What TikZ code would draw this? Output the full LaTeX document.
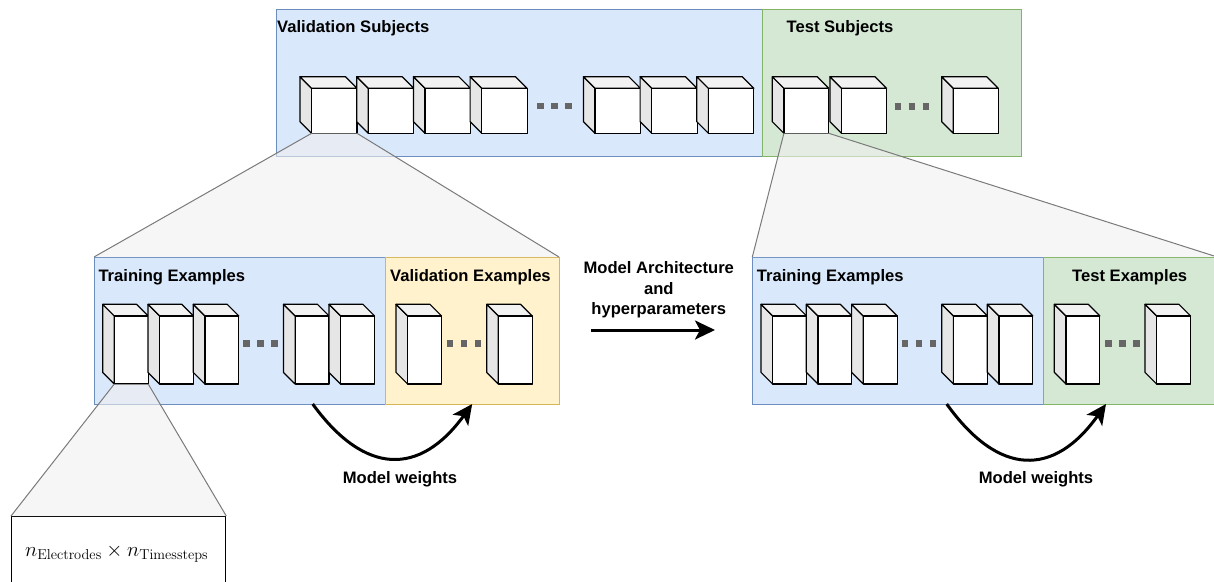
\documentclass[tikz,border=0pt]{standalone}
\usepackage[no-math]{fontspec}
\setmainfont{Liberation Sans}
\usetikzlibrary{arrows.meta,calc}

\definecolor{blueF}{HTML}{DAE8FC}
\definecolor{blueD}{HTML}{6C8EBF}
\definecolor{greenF}{HTML}{D5E8D4}
\definecolor{greenD}{HTML}{82B366}
\definecolor{yellowF}{HTML}{FFF2CC}
\definecolor{yellowD}{HTML}{D6B656}
\definecolor{sideG}{HTML}{E6E6E6}
\definecolor{topG}{HTML}{F2F2F2}
\definecolor{dotG}{HTML}{666666}
\definecolor{funnelG}{HTML}{F0F0F0}
\definecolor{funnelD}{HTML}{7A7A7A}

\tikzset{
  panel/.style={line width=1pt, inner sep=0pt, outer sep=0pt, anchor=north west, minimum height=147pt},
  bluepanel/.style={panel, fill=blueF, draw=blueD},
  greenpanel/.style={panel, fill=greenF, draw=greenD},
  yellowpanel/.style={panel, fill=yellowF, draw=yellowD},
  lbl/.style={font=\fontsize{16.6}{20.3}\selectfont\bfseries, inner sep=0pt},
  cubeedge/.style={draw=black, line width=1.2pt, line join=round},
  gapdots/.style={draw=dotG, line width=6.6pt, dash pattern=on 6.5pt off 7.5pt},
  funnelfill/.style={fill=funnelG, fill opacity=0.6},
  funnelline/.style={draw=funnelD, line width=1pt},
  thickarrow/.style={line width=3pt, -{Stealth[length=20pt,width=19pt,inset=5pt]}},
  % cuboid: #1 width, #2 height, #3 depth; origin at the top-left of the outline
  pics/cuboid/.style n args={3}{code={
    \filldraw[cubeedge, fill=sideG] (0,0) -- (#3,#3) -- (#3,#2) -- (0,#2-#3) -- cycle;
    \filldraw[cubeedge, fill=topG] (0,0) -- (#1-#3,0) -- (#1,#3) -- (#3,#3) -- cycle;
    \filldraw[cubeedge, fill=white] (#3,#3) rectangle (#1,#2);
    \coordinate (-fbl) at (#3,#2);
    \coordinate (-fbr) at (#1,#2);
  }},
}

\begin{document}
\begin{tikzpicture}[x=1pt, y=-1pt]
\useasboundingbox (0,0) rectangle (1214,581);
\clip (0,0) rectangle (1214,581);

% subject panels
\node[bluepanel, minimum width=486pt] (valsub) at (276,9) {};
\node[greenpanel, minimum width=259pt] (testsub) at (762,9) {};

% example panels
\node[bluepanel, minimum width=291.5pt] (trainL) at (94,257) {};
\node[yellowpanel, minimum width=173.5pt] (valL) at (385.5,257) {};
\node[bluepanel, minimum width=291.5pt] (trainR) at (752.3,257) {};
\node[greenpanel, minimum width=173.5pt] (testR) at (1043.8,257) {};

% single example
\node[draw=black, line width=1pt, fill=white, inner sep=0pt, anchor=north west,
      minimum width=214.3pt, minimum height=100pt] (detail) at (11,516) {};

% subjects
\foreach \x [count=\i] in {300,356.7,413.4,470.1,583.4,640.1,696.8}
  \pic (vs\i) at (\x,76.7) {cuboid={57}{56.6}{11.6}};
\foreach \x [count=\i] in {772.3,830,941.7}
  \pic (ts\i) at (\x,76.7) {cuboid={56.5}{56.6}{11.6}};

% examples
\foreach \x [count=\i] in {102.7,148,193.3,283.5,329}
  \pic (tl\i) at (\x,304.3) {cuboid={45.5}{79.7}{11.6}};
\foreach \x [count=\i] in {396,486.7}
  \pic (vl\i) at (\x,304.3) {cuboid={45.5}{79.7}{11.6}};
\foreach \x [count=\i] in {761,806.3,851.6,941.8,987.3}
  \pic (tr\i) at (\x,304.3) {cuboid={45.5}{79.7}{11.6}};
\foreach \x [count=\i] in {1054.3,1145}
  \pic (er\i) at (\x,304.3) {cuboid={45.5}{79.7}{11.6}};

% gaps in the sequences
\draw[gapdots] (537,106) -- (572,106);
\draw[gapdots] (894.5,106.5) -- (929.5,106.5);
\draw[gapdots] (243.3,343.3) -- (278.3,343.3);
\draw[gapdots] (446.7,343.3) -- (481.7,343.3);
\draw[gapdots] (901.6,343.3) -- (936.6,343.3);
\draw[gapdots] (1105,343.3) -- (1140,343.3);

% zoom funnels
\fill[funnelfill] (vs1-fbl) -- (trainL.north west) -- (valL.north east) -- (vs1-fbr) -- cycle;
\draw[funnelline] (vs1-fbl) -- (trainL.north west) (vs1-fbr) -- (valL.north east);
\fill[funnelfill] (ts1-fbl) -- (trainR.north west) -- (testR.north east) -- (ts1-fbr) -- cycle;
\draw[funnelline] (ts1-fbl) -- (trainR.north west) (ts1-fbr) -- (testR.north east);
\fill[funnelfill] (tl1-fbl) -- (detail.north west) -- (detail.north east) -- (tl1-fbr) -- cycle;
\draw[funnelline] (tl1-fbl) -- (detail.north west) (tl1-fbr) -- (detail.north east);

% titles
\node[lbl, anchor=base west] (tvs) at (277,32) {Validation Subjects};
\node[lbl, anchor=base] (tts) at (840,32.5) {Test Subjects};
\node[lbl, anchor=base west] (ttl) at (98.3,281) {Training Examples};
\node[lbl, anchor=base west] (tvl) at (390,281) {Validation Examples};
\node[lbl, anchor=base west] (ttr) at (756.7,281) {Training Examples};
\node[lbl, anchor=base] (ter) at (1129.7,281) {Test Examples};
\node[lbl, align=center] (arch) at (658.8,290) {Model Architecture\\and\\hyperparameters};
\node[lbl, anchor=base] (mwl) at (400,483.7) {Model weights};
\node[lbl, anchor=base] (mwr) at (1036,483.7) {Model weights};
\node[anchor=base, inner sep=0pt, font=\fontsize{20}{24}\selectfont] (dims) at (116.7,556.7)
  {$n_{\mathrm{Electrodes}}\times n_{\mathrm{Timessteps}}$};

% transfer arrows
\coordinate (archA) at (591,330);
\coordinate (archB) at (715,330);
\draw[thickarrow] (archA) -- (archB);

\coordinate (wlA) at (312.7,404);
\coordinate (wlB) at (472.2,404);
\draw[thickarrow] (wlA) .. controls (365,476) and (420,476) .. (wlB);

\coordinate (wrA) at (946.7,404);
\coordinate (wrB) at (1106,404);
\draw[thickarrow] (wrA) .. controls (999,477) and (1054,477) .. (wrB);
\end{tikzpicture}
\end{document}
